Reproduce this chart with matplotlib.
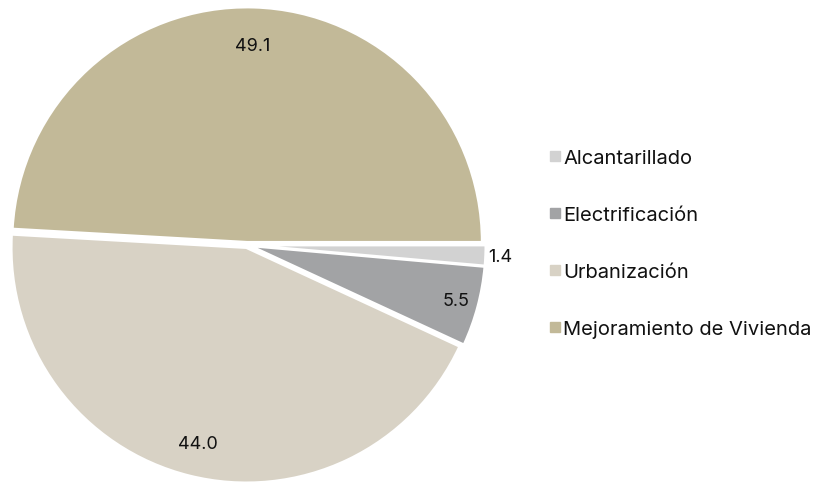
import numpy as np
import matplotlib.pyplot as plt
from matplotlib.lines import Line2D

plt.rcParams['font.family'] = ['Inter', 'DejaVu Sans']

# datos
categorias = ['Alcantarillado', 'Electrificación', 'Urbanización', 'Mejoramiento de Vivienda']
valores = [1.4, 5.5, 44.0, 49.1]
colores = ['#d2d2d2', '#a2a3a5', '#d8d2c5', '#c2b998']
explode = [0.016, 0.016, 0.012, 0.012]
dist_etiqueta = [1.08, 0.92, 0.87, 0.85]

W, H = 814, 485
fig = plt.figure(figsize=(W / 100, H / 100), dpi=100)

# pie centrado en (247, 246) px, radio 235 px
cx, cy, R, half = 247, 246, 235, 250
ax = fig.add_axes([(cx - half) / W, (H - cy - half) / H, 2 * half / W, 2 * half / H])

wedges, _ = ax.pie(valores, colors=colores, startangle=0, counterclock=False,
                   explode=explode, radius=1,
                   wedgeprops=dict(edgecolor='white', linewidth=1.8))
ax.set_xlim(-half / R, half / R)
ax.set_ylim(-half / R, half / R)
ax.axis('off')

for w, v, d in zip(wedges, valores, dist_etiqueta):
    ang = np.deg2rad((w.theta1 + w.theta2) / 2)
    ax.text(d * np.cos(ang), d * np.sin(ang), f'{v:.1f}',
            ha='center', va='center', fontsize=13, color='#111111')

handles = [Line2D([], [], marker='s', linestyle='none', markersize=7.2,
                  markerfacecolor=c, markeredgecolor=c) for c in colores]
fig.legend(handles, categorias, loc='center left', bbox_to_anchor=(548 / W, 1 - 244.5 / H),
           frameon=False, fontsize=14.5, labelspacing=1.92, handletextpad=0.05,
           handlelength=0.7, borderpad=0, borderaxespad=0, labelcolor='#111111')

fig.savefig('out.png', dpi=100)
